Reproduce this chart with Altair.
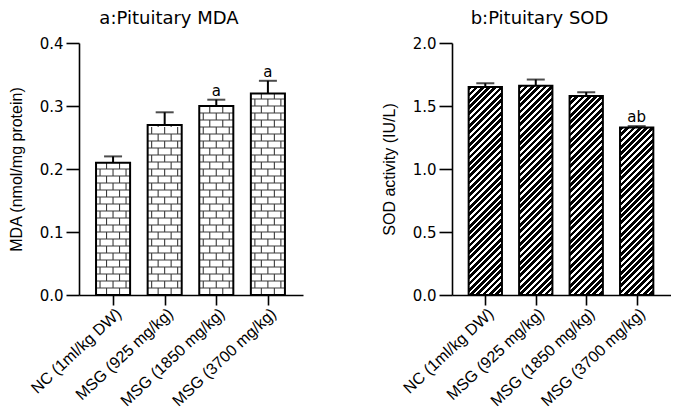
import json
import math
import pandas as pd
import altair as alt

# ---------------- data ----------------
groups = ["NC (1ml/kg DW)", "MSG (925 mg/kg)", "MSG (1850 mg/kg)", "MSG (3700 mg/kg)"]
mda_mean = [0.21, 0.27, 0.30, 0.32]
mda_err = [0.01, 0.02, 0.01, 0.02]
mda_letters = ["", "", "a", "a"]
sod_mean = [1.65, 1.66, 1.58, 1.33]
sod_err = [0.03, 0.05, 0.03, 0.01]
sod_letters = ["", "", "", "ab"]
mda_ticks = [0.0, 0.1, 0.2, 0.3, 0.4]
sod_ticks = [0.0, 0.5, 1.0, 1.5, 2.0]

# ---------------- layout / style ----------------
X_DOMAIN = [-0.66, 3.68]
HALF = 0.33
PLOT_H = 252
W_LEFT = 224
W_RIGHT = 219
LABEL_FONT = "Liberation Sans"
NUM_FONT = "DejaVu Sans"


def base_frame(means, errs, letters):
    df = pd.DataFrame({
        "pos": list(range(len(groups))),
        "group": groups,
        "mean": means,
        "err": errs,
        "letter": letters,
    })
    df["top"] = df["mean"] + df["err"]
    df["x0"] = df["pos"] - HALF
    df["x1"] = df["pos"] + HALF
    return df


def x_enc(field, width):
    return alt.X(
        field,
        type="quantitative",
        scale=alt.Scale(domain=X_DOMAIN, nice=False, zero=False),
        axis=alt.Axis(
            values=[0, 1, 2, 3],
            labelExpr=json.dumps(groups) + "[datum.value]",
            title=None,
            grid=False,
            tickSize=10,
            labelAngle=-43,
            labelAlign="right",
            labelBaseline="top",
            labelPadding=0,
            labelOverlap=False,
            labelFont=LABEL_FONT,
            labelFontSize=16,
        ),
    )


def y_enc(field, ymax, ticks, title):
    return alt.Y(
        field,
        type="quantitative",
        scale=alt.Scale(domain=[0, ymax], nice=False, zero=True),
        axis=alt.Axis(
            values=ticks,
            format=".1f",
            title=title,
            grid=False,
            tickSize=13,
            labelPadding=3,
            titlePadding=15,
            labelFont=NUM_FONT,
            labelFontSize=15,
            titleFont=LABEL_FONT,
            titleFontSize=16,
            titleFontWeight="normal",
        ),
    )


def common_layers(df, width, ymax, ticks, ytitle):
    err_line = alt.Chart(df).mark_rule(color="black", strokeWidth=2).encode(
        x=x_enc("pos", width), y=y_enc("mean", ymax, ticks, ytitle), y2="top"
    )
    caps = alt.Chart(df).mark_tick(
        orient="horizontal", size=18, thickness=2, color="black"
    ).encode(x=x_enc("pos", width), y=y_enc("top", ymax, ticks, ytitle))
    letters = alt.Chart(df).mark_text(
        baseline="bottom", dy=-1, font=NUM_FONT, fontSize=15, color="black"
    ).encode(x=x_enc("pos", width), y=y_enc("top", ymax, ticks, ytitle), text="letter")
    outline = alt.Chart(df).mark_rect(
        fill="transparent", stroke="black", strokeWidth=2
    ).encode(
        x=x_enc("x0", width), x2="x1", y=y_enc("mean", ymax, ticks, ytitle), y2=alt.datum(0)
    )
    return err_line, caps, letters, outline


# ---------------- left panel: MDA with brick pattern ----------------
mda = base_frame(mda_mean, mda_err, mda_letters)
px_per_x_left = W_LEFT / (X_DOMAIN[1] - X_DOMAIN[0])
px_per_y_left = PLOT_H / 0.4
ROW_PX = 7.0
BRICK_PX = 13.0
bar_w_px_left = 2 * HALF * px_per_x_left
row_u = ROW_PX / px_per_y_left

brick_rows = []
for i, m in enumerate(mda_mean):
    left = i - HALF
    k = 0
    while k * row_u < m - 1e-9:
        y0 = k * row_u
        y1 = min((k + 1) * row_u, m)
        if (k + 1) * row_u < m - 0.3 * row_u:
            brick_rows.append({"x": left, "x2": left + 2 * HALF, "y": y1, "y2": y1})
        start = 10.5 if k % 2 == 0 else 4.0
        off = start
        while off < bar_w_px_left - 1.5:
            xv = left + off / px_per_x_left
            brick_rows.append({"x": xv, "x2": xv, "y": y0, "y2": y1})
            off += BRICK_PX
        k += 1
bricks_df = pd.DataFrame(brick_rows)

mda_fill = alt.Chart(mda).mark_rect(fill="white").encode(
    x=x_enc("x0", W_LEFT), x2="x1",
    y=y_enc("mean", 0.4, mda_ticks, "MDA (nmol/mg protein)"), y2=alt.datum(0),
)
mda_bricks = alt.Chart(bricks_df).mark_rule(color="#3a3a3a", strokeWidth=1.1).encode(
    x=x_enc("x", W_LEFT), x2="x2",
    y=y_enc("y", 0.4, mda_ticks, "MDA (nmol/mg protein)"), y2="y2",
)
e1, c1, l1, o1 = common_layers(mda, W_LEFT, 0.4, mda_ticks, "MDA (nmol/mg protein)")
left_chart = alt.layer(mda_fill, mda_bricks, o1, e1, c1, l1).properties(
    width=W_LEFT,
    height=PLOT_H,
    title=alt.TitleParams(
        "a:Pituitary MDA", font=NUM_FONT, fontSize=18, fontWeight="normal",
        anchor="middle", frame="group", dx=-22, offset=8, color="black",
    ),
)

# ---------------- right panel: SOD with diagonal hatching ----------------
sod = base_frame(sod_mean, sod_err, sod_letters)
px_per_x_right = W_RIGHT / (X_DOMAIN[1] - X_DOMAIN[0])
bar_w_px_right = 2 * HALF * px_per_x_right
HATCH_PX = 6.3
BLACK_FRAC = 0.58


def hatch_gradient(w, h):
    L = w + h
    k = L / (w * w + h * h)
    stops = []
    n = 0
    while n * HATCH_PX <= L:
        s0 = n * HATCH_PX / L
        s1 = min((n + BLACK_FRAC) * HATCH_PX / L, 1.0)
        s2 = min((n + 1) * HATCH_PX / L, 1.0)
        stops += [
            {"offset": min(s0, 1.0), "color": "black"},
            {"offset": s1, "color": "black"},
            {"offset": s1, "color": "white"},
            {"offset": s2, "color": "white"},
        ]
        n += 1
    return {"gradient": "linear", "x1": 0, "y1": 0, "x2": k * w, "y2": k * h, "stops": stops}


sod_bars = []
for i, m in enumerate(sod_mean):
    h = m / 2.0 * PLOT_H
    sub = sod.iloc[[i]]
    sod_bars.append(
        alt.Chart(sub).mark_rect(fill=hatch_gradient(bar_w_px_right, h)).encode(
            x=x_enc("x0", W_RIGHT), x2="x1",
            y=y_enc("mean", 2.0, sod_ticks, "SOD activity (IU/L)"), y2=alt.datum(0),
        )
    )
e2, c2, l2, o2 = common_layers(sod, W_RIGHT, 2.0, sod_ticks, "SOD activity (IU/L)")
right_chart = alt.layer(*sod_bars, o2, e2, c2, l2).properties(
    width=W_RIGHT,
    height=PLOT_H,
    title=alt.TitleParams(
        "b:Pituitary SOD", font=NUM_FONT, fontSize=18, fontWeight="normal",
        anchor="middle", frame="group", dx=-22, offset=8, color="black",
    ),
)

chart = alt.hconcat(left_chart, right_chart, spacing=78).properties(
    padding={"left": 0, "right": 0, "top": 2, "bottom": 0}, background="white"
).configure_view(stroke=None).configure_axis(
    domainColor="black", domainWidth=1.6, tickColor="black", tickWidth=1.6,
    labelColor="black", titleColor="black",
)

chart.save("out.html", embed_options={"renderer": "svg", "actions": False})
